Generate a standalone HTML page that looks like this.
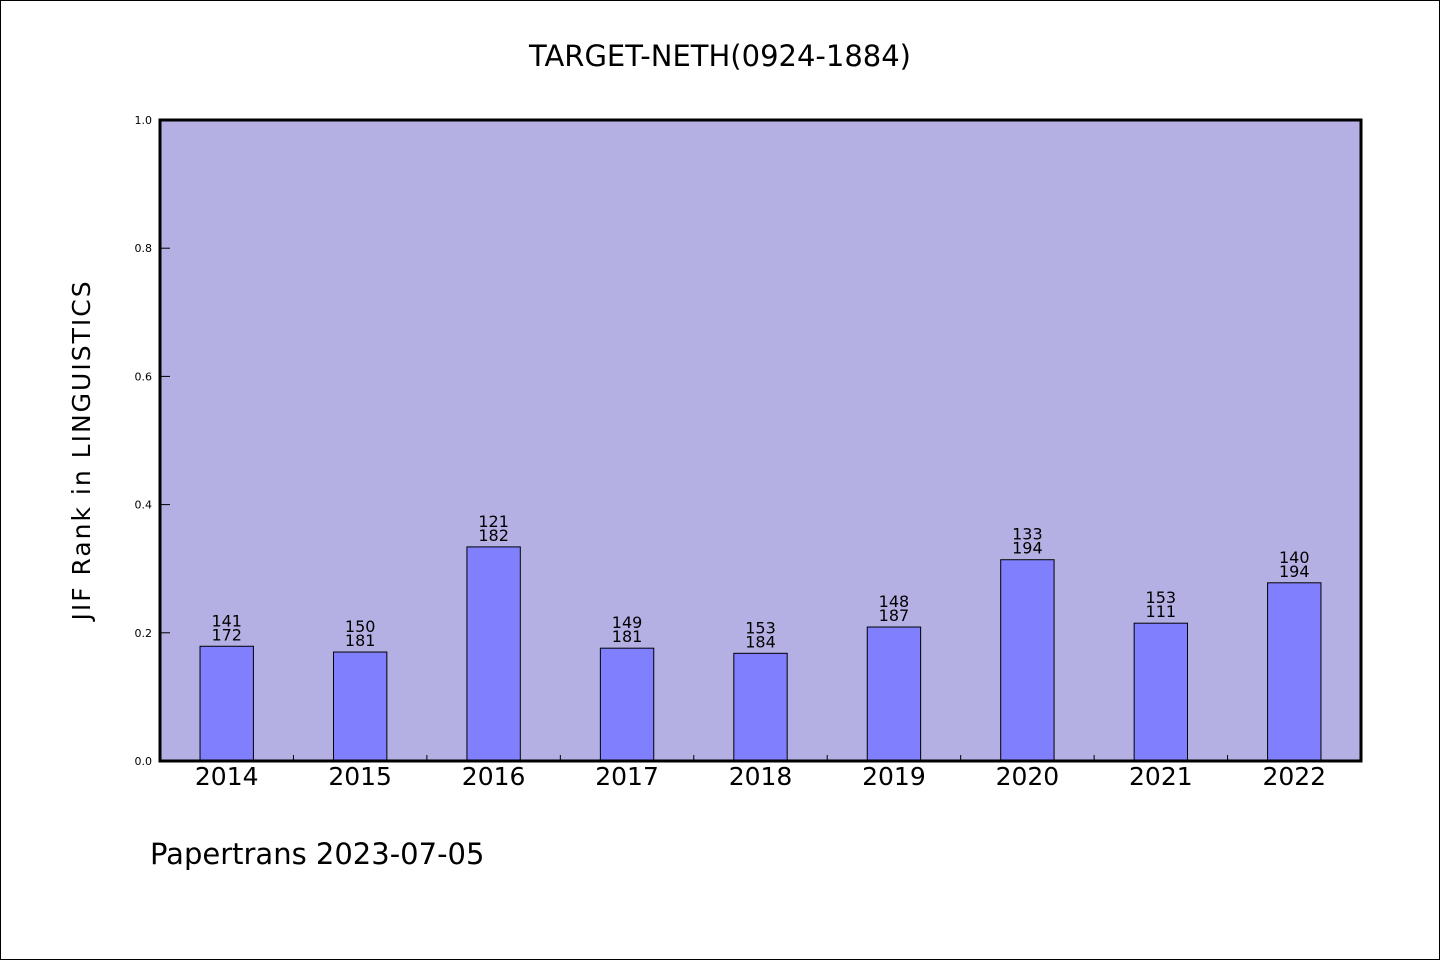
<!DOCTYPE html>
<html><head><meta charset="utf-8"><style>
body{margin:0;background:#fff}
svg text{font-family:"WenQuanYi Zen Hei","DejaVu Sans",sans-serif;fill:#000}
</style></head><body>
<svg id="chart" width="1440" height="960" viewBox="0 0 1440 960" xmlns="http://www.w3.org/2000/svg">
<rect x="0.5" y="0.5" width="1439" height="959" fill="#fff" stroke="#000"/>
<text x="720" y="66" font-size="29" text-anchor="middle">TARGET-NETH(0924-1884)</text>
<rect x="160" y="120" width="1201" height="641" fill="#b5b0e3"/>
<g id="marks"></g>
<rect x="160" y="120" width="1201" height="641" fill="none" stroke="#000" stroke-width="3"/>
<text transform="translate(90,450) rotate(-90)" font-size="25" text-anchor="middle" letter-spacing="2">JIF Rank in LINGUISTICS</text>
<text x="150" y="864" font-size="29">Papertrans 2023-07-05</text>
</svg>
<script>
const categories=["2014","2015","2016","2017","2018","2019","2020","2021","2022"];
const values=[0.179,0.170,0.334,0.176,0.168,0.209,0.314,0.215,0.278];
const rankLabels=["141","150","121","149","153","148","133","153","140"];
const totalLabels=["172","181","182","181","184","187","194","111","194"];
const yTicks=[0,0.2,0.4,0.6,0.8,1.0];
const yTickLabels=["0.0","0.2","0.4","0.6","0.8","1.0"];
const X0=160,X1=1361,Y0=761,Y1=120;
const band=(X1-X0)/categories.length;
const xC=i=>X0+band*(i+0.5);
const yS=v=>Y0-(Y0-Y1)*v;
const g=document.getElementById('marks');
const NS="http://www.w3.org/2000/svg";
function mk(t,a){const e=document.createElementNS(NS,t);for(const k in a)e.setAttribute(k,a[k]);g.appendChild(e);return e;}
yTicks.forEach((v,i)=>{
 const l=mk('line',{x1:X0,x2:X0+10,y1:yS(v),y2:yS(v),stroke:'#000','stroke-width':1});
 
 
 const t=mk('text',{x:152,y:yS(v)+4,'font-size':11,'text-anchor':'end'});
 t.textContent=yTickLabels[i];
 
 
});
for(let i=1;i<categories.length;i++){
 const l=mk('line',{x1:X0+band*i,x2:X0+band*i,y1:Y0,y2:Y0-6,stroke:'#000','stroke-width':1});
 
 
}
categories.forEach((c,i)=>{
 const bw=band*0.4, x=xC(i)-bw/2, y=yS(values[i]);
 const r=mk('rect',{x:x,y:y,width:bw,height:Y0-y,fill:'#8080ff',stroke:'#000','stroke-width':1});
 
 
 const t1=mk('text',{x:xC(i),y:y-20,'font-size':16,'text-anchor':'middle'});
 t1.textContent=rankLabels[i];
 
 
 const t2=mk('text',{x:xC(i),y:y-6,'font-size':16,'text-anchor':'middle'});
 t2.textContent=totalLabels[i];
 
 
 const xl=mk('text',{x:xC(i),y:785,'font-size':25,'text-anchor':'middle'});
 xl.textContent=c;
 
 
});
</script>
</body></html>
